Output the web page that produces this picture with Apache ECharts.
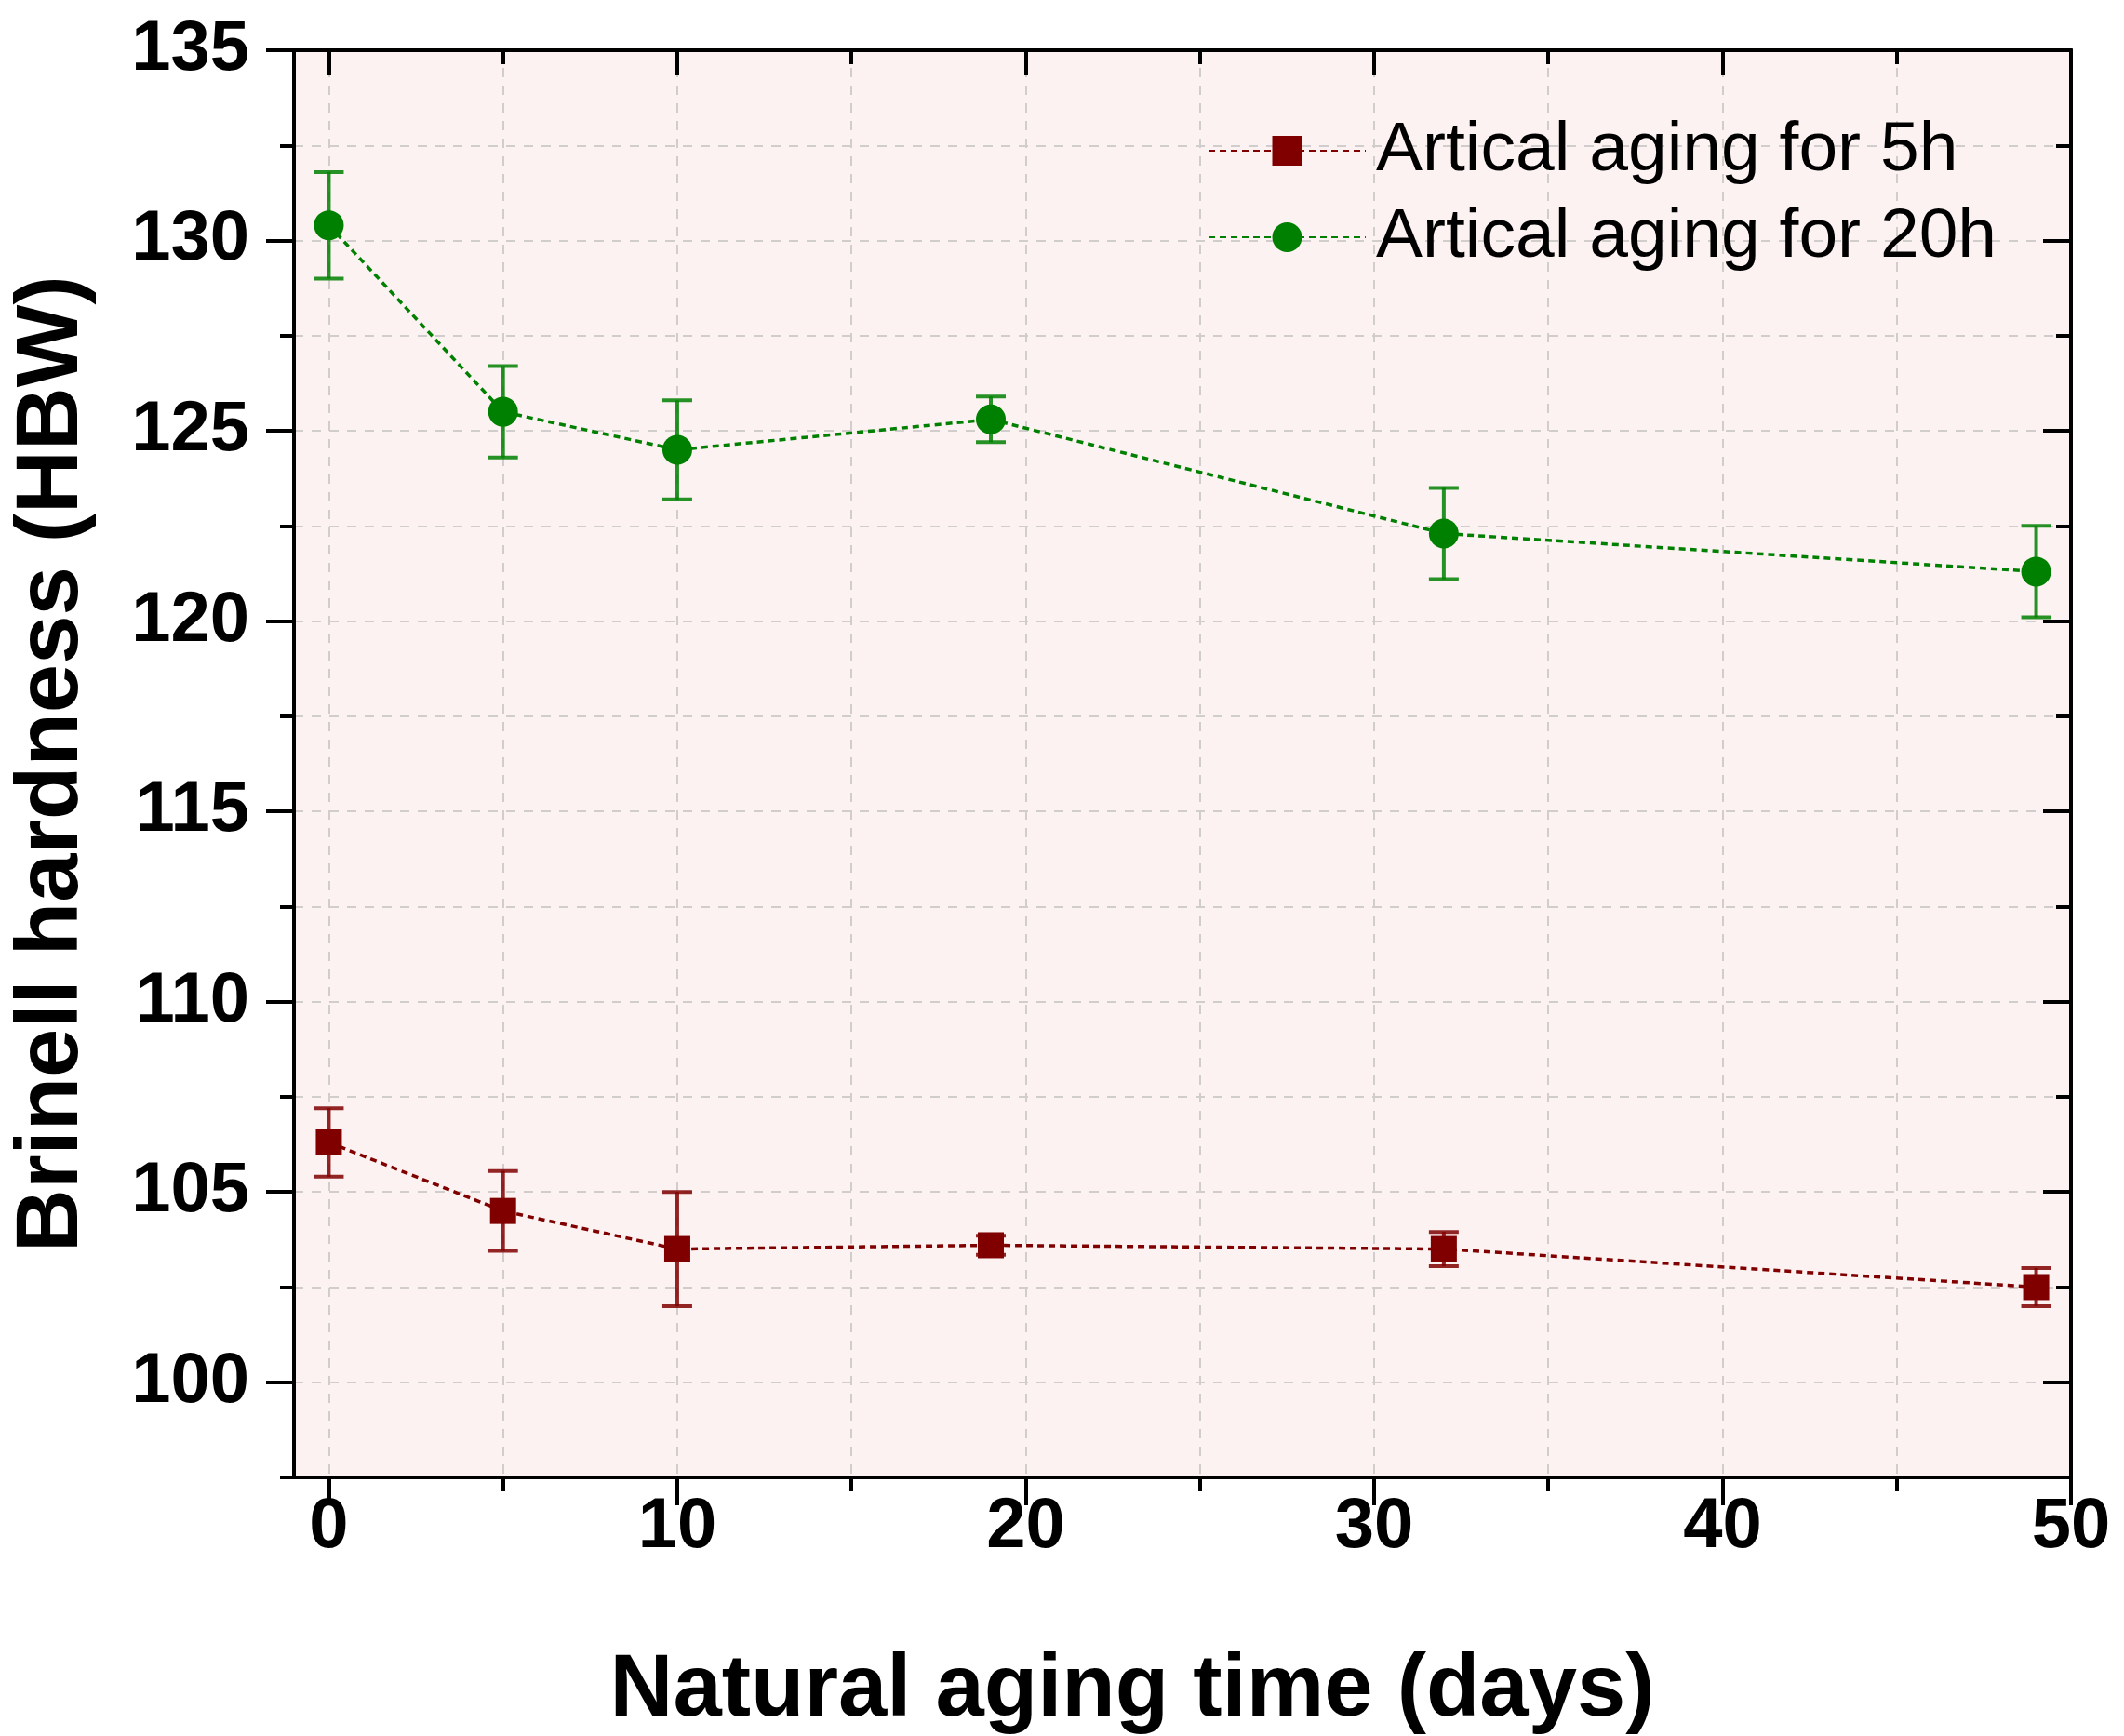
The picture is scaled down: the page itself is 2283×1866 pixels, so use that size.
<!DOCTYPE html>
<html><head><meta charset="utf-8">
<script src="https://cdn.jsdelivr.net/npm/echarts@6/dist/echarts.min.js"></script>
<style>html,body{margin:0;padding:0;background:#fff}#c{width:2283px;height:1866px}</style>
</head><body><div id="c"></div>
<script>
const days = [0, 5, 10, 19, 32, 49];
const hard5h = [106.3, 104.5, 103.5, 103.6, 103.5, 102.5];
const err5h = [0.9, 1.05, 1.5, 0.25, 0.45, 0.5];
const hard20h = [130.4, 125.5, 124.5, 125.3, 122.3, 121.3];
const err20h = [1.4, 1.2, 1.3, 0.6, 1.2, 1.2];
const xMajorTicks = [0, 10, 20, 30, 40, 50];
const xMinorTicks = [5, 15, 25, 35, 45];
const yMajorTicks = [100, 105, 110, 115, 120, 125, 130, 135];
const yMinorTicks = [97.5, 102.5, 107.5, 112.5, 117.5, 122.5, 127.5, 132.5];
const seriesNames = ['Artical aging for 5h', 'Artical aging for 20h'];
const colors = ['#800000', '#008000'];

const FONT = "'Liberation Sans', Arial, sans-serif";
const X_MIN = -1, X_MAX = 50, Y_MIN = 97.5, Y_MAX = 135;

const gridSplit = { show: true, lineStyle: { color: '#d2cdcd', width: 2, type: [10, 9] } };

function axis(kind, pos, ticks, len, inside, withLabel, split) {
  return {
    type: 'value', position: pos,
    min: kind === 'x' ? X_MIN : Y_MIN, max: kind === 'x' ? X_MAX : Y_MAX,
    axisLine: { show: true, onZero: false, lineStyle: { color: '#000', width: 4 } },
    axisTick: { show: true, inside: inside, length: len, customValues: ticks, lineStyle: { color: '#000', width: 4 } },
    axisLabel: { show: withLabel, customValues: ticks, color: '#000', fontFamily: FONT, fontWeight: 'bold', fontSize: 76,
                 margin: kind === 'x' ? 16 : 48 },
    splitLine: split ? gridSplit : { show: false },
    minorTick: { show: false }, minorSplitLine: { show: false }
  };
}

const xAxes = [
  axis('x', 'bottom', xMajorTicks, 30, false, true, true),
  axis('x', 'bottom', xMinorTicks, 15, false, false, true),
  axis('x', 'top', xMajorTicks, 27, true, false, false),
  axis('x', 'top', xMinorTicks, 15, true, false, false)
];
xAxes[0].name = 'Natural aging time (days)';
xAxes[0].nameLocation = 'middle';
xAxes[0].nameGap = 183;
xAxes[0].nameMoveOverlap = false;
xAxes[0].nameTextStyle = { color: '#000', fontFamily: FONT, fontWeight: 'bold', fontSize: 94, padding: [0, 108, 0, 0] };

const yAxes = [
  axis('y', 'left', yMajorTicks, 30, false, true, true),
  axis('y', 'left', yMinorTicks, 15, false, false, true),
  axis('y', 'right', yMajorTicks, 30, true, false, false),
  axis('y', 'right', yMinorTicks, 16, true, false, false)
];
yAxes[0].name = 'Brinell hardness (HBW)';
yAxes[0].nameLocation = 'middle';
yAxes[0].nameGap = 212;
yAxes[0].nameMoveOverlap = false;
yAxes[0].nameTextStyle = { color: '#000', fontFamily: FONT, fontWeight: 'bold', fontSize: 94 };

function errData(vals, errs) {
  return days.map((d, i) => [d, vals[i] - errs[i], vals[i] + errs[i]]);
}
function errRender(color) {
  return function (params, api) {
    const x = api.value(0), lo = api.value(1), hi = api.value(2);
    const pLo = api.coord([x, lo]), pHi = api.coord([x, hi]);
    const w = 16;
    const st = { stroke: color, lineWidth: 4, opacity: 0.85 };
    return { type: 'group', children: [
      { type: 'line', shape: { x1: pLo[0], y1: pLo[1], x2: pHi[0], y2: pHi[1] }, style: st },
      { type: 'line', shape: { x1: pLo[0] - w, y1: pLo[1], x2: pLo[0] + w, y2: pLo[1] }, style: st },
      { type: 'line', shape: { x1: pHi[0] - w, y1: pHi[1], x2: pHi[0] + w, y2: pHi[1] }, style: st }
    ] };
  };
}

const option = {
  backgroundColor: '#fff',
  animation: false,
  grid: { left: 316, right: 57, top: 54, bottom: 278, containLabel: false, outerBoundsMode: 'none',
          show: true, backgroundColor: '#fdf2f2', borderWidth: 0 },
  xAxis: xAxes,
  yAxis: yAxes,
  legend: {
    orient: 'vertical', left: 1293, top: 117, itemWidth: 169, itemHeight: 40, itemGap: 13,
    textStyle: { color: '#000', fontFamily: FONT, fontSize: 75, lineHeight: 80, padding: [0, 0, 0, 6] },
    data: seriesNames
  },
  series: [
    { type: 'custom', name: 'err5h', xAxisIndex: 0, yAxisIndex: 0, renderItem: errRender(colors[0]),
      data: errData(hard5h, err5h), encode: { x: 0, y: [1, 2] }, z: 2, silent: true },
    { type: 'custom', name: 'err20h', xAxisIndex: 0, yAxisIndex: 0, renderItem: errRender(colors[1]),
      data: errData(hard20h, err20h), encode: { x: 0, y: [1, 2] }, z: 2, silent: true },
    { type: 'line', name: seriesNames[0], xAxisIndex: 0, yAxisIndex: 0, data: days.map((d, i) => [d, hard5h[i]]),
      symbol: 'rect', symbolSize: 28, color: colors[0], itemStyle: { color: colors[0] },
      lineStyle: { color: colors[0], width: 3.5, type: [7, 5] }, z: 3 },
    { type: 'line', name: seriesNames[1], xAxisIndex: 0, yAxisIndex: 0, data: days.map((d, i) => [d, hard20h[i]]),
      symbol: 'circle', symbolSize: 32, color: colors[1], itemStyle: { color: colors[1] },
      lineStyle: { color: colors[1], width: 3.5, type: [7, 5] }, z: 3 }
  ]
};
const chart = echarts.init(document.getElementById('c'));
chart.setOption(option);
</script>
</body></html>
